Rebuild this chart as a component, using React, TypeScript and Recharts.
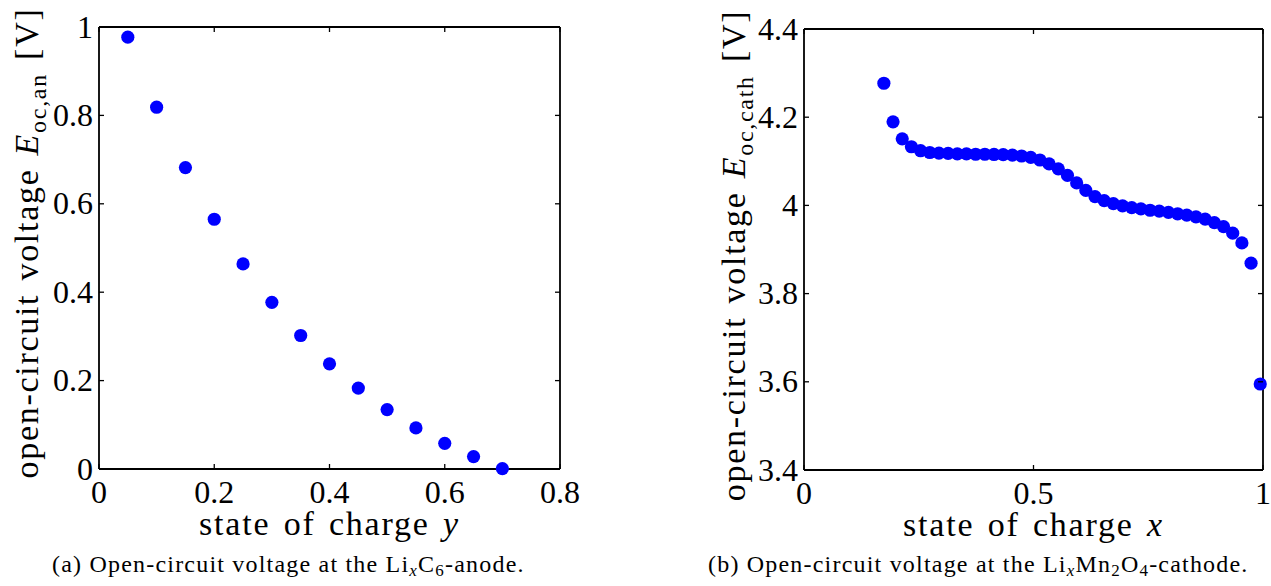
import React from 'react';
import { ScatterChart, Scatter, XAxis, YAxis } from 'recharts';

const FONT = '"Liberation Serif", "Times New Roman", serif';
const BLUE = '#0000ff';

// (a) anode
const anodeSoc = [0.05, 0.1, 0.15, 0.2, 0.25, 0.3, 0.35, 0.4, 0.45, 0.5, 0.55, 0.6, 0.65, 0.7];
const anodeVoltage = [0.977, 0.8185, 0.682, 0.565, 0.464, 0.377, 0.302, 0.238, 0.183, 0.1345, 0.093, 0.058, 0.028, 0.001];
const anodeXTicks = [0, 0.2, 0.4, 0.6, 0.8];
const anodeYTicks = [0, 0.2, 0.4, 0.6, 0.8, 1];

// (b) cathode
const cathodeSoc = [
  0.174, 0.194, 0.214, 0.234, 0.254, 0.274, 0.294, 0.314, 0.334, 0.354, 0.374, 0.394, 0.414, 0.434,
  0.454, 0.474, 0.494, 0.514, 0.534, 0.554, 0.574, 0.594, 0.614, 0.634, 0.654, 0.674, 0.694, 0.714,
  0.734, 0.754, 0.774, 0.794, 0.814, 0.834, 0.854, 0.874, 0.894, 0.914, 0.934, 0.954, 0.974, 0.994,
];
const cathodeVoltage = [
  4.277, 4.1895, 4.151, 4.133, 4.124, 4.12, 4.1185, 4.118, 4.117, 4.117, 4.116, 4.116, 4.1155, 4.115,
  4.114, 4.112, 4.109, 4.103, 4.094, 4.083, 4.068, 4.051, 4.034, 4.02, 4.011, 4.004, 3.999, 3.995,
  3.992, 3.989, 3.987, 3.984, 3.981, 3.978, 3.974, 3.969, 3.961, 3.952, 3.937, 3.915, 3.869, 3.595,
];
const cathodeXTicks = [0, 0.5, 1];
const cathodeYTicks = [3.4, 3.6, 3.8, 4, 4.2, 4.4];

const anodeData = anodeSoc.map((s, i) => ({ s, v: anodeVoltage[i] }));
const cathodeData = cathodeSoc.map((s, i) => ({ s, v: cathodeVoltage[i] }));

const TICK_LEN = 5;
const X_MARGIN = 12;
const Y_MARGIN = 6;
const TICK_FONT = 32;
const LABEL_FONT = 34;
const AXIS_STROKE = 1.8;

const BottomTick = (props: any) => {
  const { x, y, payload } = props;
  const axisY = y - X_MARGIN;
  return (
    <g>
      <line x1={x} x2={x} y1={axisY} y2={axisY - TICK_LEN} stroke="#000" strokeWidth={1.3} />
      <text x={x} y={y} dy="0.7em" textAnchor="middle" fontFamily={FONT} fontSize={TICK_FONT} fill="#000">
        {String(payload.value)}
      </text>
    </g>
  );
};

const LeftTick = (props: any) => {
  const { x, y, payload } = props;
  const axisX = x + Y_MARGIN;
  return (
    <g>
      <line x1={axisX} x2={axisX + TICK_LEN} y1={y} y2={y} stroke="#000" strokeWidth={1.3} />
      <text x={x} y={y} dy="0.33em" textAnchor="end" fontFamily={FONT} fontSize={TICK_FONT} fill="#000">
        {String(payload.value)}
      </text>
    </g>
  );
};

const TopTick = (props: any) => {
  const { x, y } = props;
  return <line x1={x} x2={x} y1={y} y2={y + TICK_LEN} stroke="#000" strokeWidth={1.3} />;
};

const RightTick = (props: any) => {
  const { x, y } = props;
  return <line x1={x} x2={x - TICK_LEN} y1={y} y2={y} stroke="#000" strokeWidth={1.3} />;
};

const Dot = (props: any) => <circle cx={props.cx} cy={props.cy} r={6.6} fill={BLUE} />;
const NoDot = () => <g />;

const makeXLabel = (italicVar: string) => (p: any) => {
  const vb = p.viewBox || {};
  return (
    <text
      x={vb.x + vb.width / 2}
      y={vb.y + 66}
      textAnchor="middle"
      fontFamily={FONT}
      fontSize={LABEL_FONT}
      letterSpacing={1.8}
      wordSpacing={3}
      fill="#000"
    >
      state of charge <tspan fontStyle="italic">{italicVar}</tspan>
    </text>
  );
};

const makeYLabel = (sub: string, cx: number, shift: number) => (p: any) => {
  const vb = p.viewBox || {};
  const cy = vb.y + vb.height / 2 + shift;
  return (
    <text
      x={cx}
      y={cy}
      transform={`rotate(-90 ${cx} ${cy})`}
      dy="0.35em"
      textAnchor="middle"
      fontFamily={FONT}
      fontSize={LABEL_FONT}
      letterSpacing={1.7}
      wordSpacing={3}
      fill="#000"
    >
      open-circuit voltage <tspan fontStyle="italic">E</tspan>
      <tspan fontSize={24} dy={8}>{sub}</tspan>
      <tspan dy={-8}> [V]</tspan>
    </text>
  );
};

function Panel(props: {
  data: { s: number; v: number }[];
  xDomain: [number, number];
  yDomain: [number, number];
  xTicks: number[];
  yTicks: number[];
  width: number;
  height: number;
  margin: { top: number; right: number; bottom: number; left: number };
  yAxisWidth: number;
  xAxisHeight: number;
  xVar: string;
  ySub: string;
  yLabelX: number;
  yLabelShift: number;
}) {
  const p = props;
  return (
    <ScatterChart width={p.width} height={p.height} margin={p.margin}>
      <XAxis
        dataKey="s"
        type="number"
        domain={p.xDomain}
        ticks={p.xTicks}
        interval={0}
        height={p.xAxisHeight}
        axisLine={{ stroke: '#000', strokeWidth: AXIS_STROKE }}
        tickLine={false}
        tickSize={0}
        tickMargin={X_MARGIN}
        tick={<BottomTick />}
        label={{ content: makeXLabel(p.xVar) }}
      />
      <XAxis
        xAxisId="top"
        orientation="top"
        dataKey="s"
        type="number"
        domain={p.xDomain}
        ticks={p.xTicks}
        interval={0}
        height={1}
        axisLine={{ stroke: '#000', strokeWidth: AXIS_STROKE }}
        tickLine={false}
        tickSize={0}
        tickMargin={0}
        tick={<TopTick />}
      />
      <YAxis
        dataKey="v"
        type="number"
        domain={p.yDomain}
        ticks={p.yTicks}
        interval={0}
        width={p.yAxisWidth}
        axisLine={{ stroke: '#000', strokeWidth: AXIS_STROKE }}
        tickLine={false}
        tickSize={0}
        tickMargin={Y_MARGIN}
        tick={<LeftTick />}
        label={{ content: makeYLabel(p.ySub, p.yLabelX, p.yLabelShift) }}
      />
      <YAxis
        yAxisId="right"
        orientation="right"
        dataKey="v"
        type="number"
        domain={p.yDomain}
        ticks={p.yTicks}
        interval={0}
        width={1}
        axisLine={{ stroke: '#000', strokeWidth: AXIS_STROKE }}
        tickLine={false}
        tickSize={0}
        tickMargin={0}
        tick={<RightTick />}
      />
      <Scatter
        data={p.data}
        xAxisId="top"
        yAxisId="right"
        shape={<NoDot />}
        legendType="none"
        isAnimationActive={false}
      />
      <Scatter data={p.data} fill={BLUE} shape={<Dot />} isAnimationActive={false} />
    </ScatterChart>
  );
}

const CAP_FONT = 24;
const CAP_SUB = 17;

export default function App() {
  return (
    <div style={{ position: 'absolute', left: 0, top: 0, width: 1271, height: 586, background: '#fff', overflow: 'hidden' }}>
      <div style={{ position: 'absolute', left: 0, top: 0 }}>
        <Panel
          data={anodeData}
          xDomain={[0, 0.8]}
          yDomain={[0, 1]}
          xTicks={anodeXTicks}
          yTicks={anodeYTicks}
          width={640}
          height={545}
          margin={{ top: 26, right: 79, bottom: 0, left: 0 }}
          yAxisWidth={99}
          xAxisHeight={76}
          xVar="y"
          ySub="oc,an"
          yLabelX={26}
          yLabelShift={-5}
        />
      </div>
      <div style={{ position: 'absolute', left: 640, top: 0 }}>
        <Panel
          data={cathodeData}
          xDomain={[0, 1]}
          yDomain={[3.4, 4.4]}
          xTicks={cathodeXTicks}
          yTicks={cathodeYTicks}
          width={631}
          height={545}
          margin={{ top: 28, right: 7, bottom: 0, left: 0 }}
          yAxisWidth={164}
          xAxisHeight={75}
          xVar="x"
          ySub="oc,cath"
          yLabelX={93}
          yLabelShift={6}
        />
      </div>
      <svg width={1271} height={586} style={{ position: 'absolute', left: 0, top: 0, pointerEvents: 'none' }}>
        <text x={52} y={572} fontFamily={FONT} fontSize={CAP_FONT} letterSpacing={1.2} fill="#000">
          (a) Open-circuit voltage at the Li
          <tspan fontSize={CAP_SUB} fontStyle="italic" dy={4}>x</tspan>
          <tspan dy={-4}>C</tspan>
          <tspan fontSize={CAP_SUB} dy={4}>6</tspan>
          <tspan dy={-4}>-anode.</tspan>
        </text>
        <text x={708} y={572} fontFamily={FONT} fontSize={CAP_FONT} letterSpacing={1.2} fill="#000">
          (b) Open-circuit voltage at the Li
          <tspan fontSize={CAP_SUB} fontStyle="italic" dy={4}>x</tspan>
          <tspan dy={-4}>Mn</tspan>
          <tspan fontSize={CAP_SUB} dy={4}>2</tspan>
          <tspan dy={-4}>O</tspan>
          <tspan fontSize={CAP_SUB} dy={4}>4</tspan>
          <tspan dy={-4}>-cathode.</tspan>
        </text>
      </svg>
    </div>
  );
}
